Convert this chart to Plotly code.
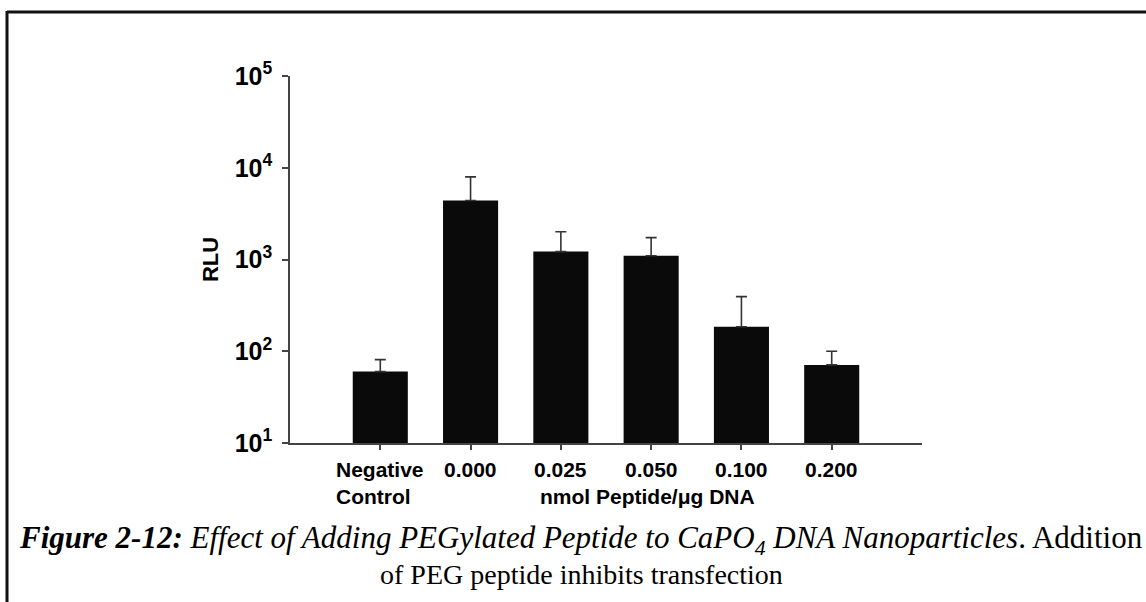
import plotly.graph_objects as go

# ---- data ----
categories = ["Negative<br>Control", "0.000", "0.025", "0.050", "0.100", "0.200"]
rlu_mean = [60, 4400, 1220, 1100, 185, 71]
rlu_upper = [81, 7950, 2010, 1730, 394, 100]
y_tick_vals = [10, 100, 1000, 10000, 100000]
y_tick_text = ["10<sup>1</sup>", "10<sup>2</sup>", "10<sup>3</sup>", "10<sup>4</sup>", "10<sup>5</sup>"]
x_title = "nmol Peptide/\u03bcg DNA"
y_title = "RLU"
caption_line1 = ("<b><i>Figure 2-12:</i></b> <i>Effect of Adding PEGylated Peptide to CaPO<sub>4</sub> "
                 "DNA Nanoparticles</i>. Addition")
caption_line2 = "of PEG peptide inhibits transfection"

W, H = 1146, 602
L, R, T, B = 290, 922, 76, 443  # plot area in pixels


def px(x):
    return (x - L) / (R - L)


def py(y):
    return (B - y) / (B - T)


xpos = list(range(len(categories)))
err_plus = [u - m for u, m in zip(rlu_upper, rlu_mean)]

fig = go.Figure()
fig.add_trace(go.Bar(
    x=xpos, y=rlu_mean, width=0.61,
    marker=dict(color="#0a0a0a", line=dict(color="#0a0a0a", width=0)),
    error_y=dict(type="data", array=err_plus, arrayminus=[0] * len(err_plus),
                 symmetric=False, color="#333333", thickness=1.6, width=5.5),
    showlegend=False,
))

axis_font = dict(family="Liberation Sans, Arial, sans-serif", size=21, color="#000")

fig.update_layout(
    width=W, height=H,
    margin=dict(l=L, r=W - R, t=T, b=H - B, pad=0),
    paper_bgcolor="white", plot_bgcolor="white",
    xaxis=dict(range=[-1, 6], tickvals=xpos, showticklabels=False,
               ticks="outside", ticklen=5, tickwidth=1.5, tickcolor="#444",
               showline=True, linecolor="#444", linewidth=1.5,
               showgrid=False, zeroline=False),
    yaxis=dict(type="log", range=[1, 5], tickvals=y_tick_vals,
               ticktext=["<b>" + t + "</b>" for t in y_tick_text],
               ticks="outside", ticklen=6, tickwidth=1.5, tickcolor="#444",
               ticklabelstandoff=5,
               showline=True, linecolor="#444", linewidth=1.5,
               showgrid=False, zeroline=False,
               tickfont=dict(family="Liberation Sans, Arial, sans-serif", size=25, color="#000"),
               title=dict(text="<b>" + y_title + "</b>",
                          font=dict(family="Liberation Sans, Arial, sans-serif", size=22, color="#000"),
                          standoff=10)),
)

annotations = []
for i, c in enumerate(categories):
    annotations.append(dict(
        x=i, y=0, xref="x", yref="paper", xanchor="center", yanchor="top",
        yshift=-13, text="<b>" + c + "</b>", showarrow=False, align="left",
        font=axis_font))
annotations.append(dict(
    x=2.96, y=0, xref="x", yref="paper", xanchor="center", yanchor="top",
    yshift=-40, text="<b>" + x_title + "</b>", showarrow=False, font=axis_font))
annotations.append(dict(
    x=px(581), y=py(540), xref="paper", yref="paper", xanchor="center", yanchor="middle",
    text=caption_line1, showarrow=False, align="center",
    font=dict(family="Liberation Serif, Times New Roman, serif", size=31, color="#000")))
annotations.append(dict(
    x=px(581), y=py(574), xref="paper", yref="paper", xanchor="center", yanchor="middle",
    text=caption_line2, showarrow=False, align="center",
    font=dict(family="Liberation Serif, Times New Roman, serif", size=28, color="#000")))
fig.update_layout(annotations=annotations)

fig.update_layout(shapes=[
    dict(type="line", xref="paper", yref="paper", x0=px(7), x1=px(1150), y0=py(12), y1=py(12),
         line=dict(color="#111", width=3)),
    dict(type="line", xref="paper", yref="paper", x0=px(7), x1=px(7), y0=py(11), y1=py(610),
         line=dict(color="#111", width=3)),
])

fig.write_html("out.html")
